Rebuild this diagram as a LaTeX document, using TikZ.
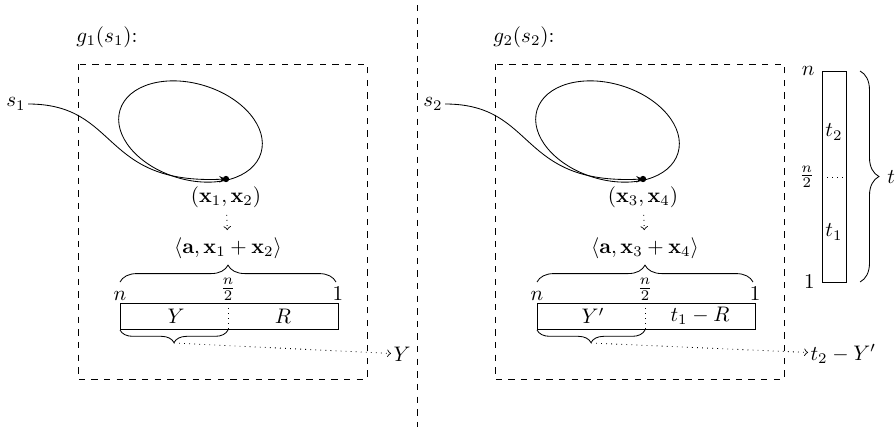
\documentclass[tikz,border=0pt]{standalone}
\usepackage{amsmath,amssymb}
\usetikzlibrary{decorations.pathreplacing}
\tikzset{
  brc/.style={decorate, decoration={brace, amplitude=#1}},
  lbl/.style={inner sep=1pt},
}
\begin{document}
\begin{tikzpicture}[x=0.0167cm, y=-0.0167cm]
\useasboundingbox (0,0) rectangle (896,433);
\draw[dashed] (417,5) -- (417,427);
% the two halves g_1 and g_2
\foreach \dx/\i/\xa/\xb/\lt/\rt/\res in {0/1/1/2/Y/R/Y, 417/2/3/4/Y'/t_1-R/t_2-Y'} {
 \begin{scope}[shift={(\dx,0)}]
 \node at (107,37) {$g_\i(s_\i)$:};
 \draw[dashed] (78,64) rectangle (367,379);
 \node[lbl] (s\i) at (16,104) {$s_\i$};
 \coordinate (p\i) at (226,179);
 \draw[rotate around={-17:(190.5,131.5)}] (190.5,131.5) ellipse (1.23cm and 0.8cm);
 \fill (p\i) circle (1.5pt);
 \draw[-stealth] (s\i) .. controls (120,104) and (100,185) .. (p\i);
 \node[below] (x\i) at (p\i) {$(\mathbf{x}_\xa,\mathbf{x}_\xb)$};
 \node (ip\i) at (228,248) {$\langle\mathbf{a},\mathbf{x}_\xa+\mathbf{x}_\xb\rangle$};
 \draw[dotted,->] (x\i) -- (ip\i);
 \draw[brc=8pt] (120,282) -- (336,282);
 \draw (120,303) rectangle (338,329);
 \draw[dotted] (228,303) -- (228,329);
 \node[above,lbl] (n\i) at (120,303) {$n$};
 \node[above,lbl] (h\i) at (228,303) {$\frac{n}{2}$};
 \node[above,lbl] (o\i) at (338,303) {$1$};
 \node (lt\i) at (176,316) {$\lt$};
 \node (rt\i) at (283,316) {$\rt$};
 \draw[brc=6pt] (228,330) -- (120,330);
 \coordinate (b\i) at (174,343);
 \node[right,lbl] (y\i) at (391,354) {$\res$};
 \draw[dotted,->] (b\i) -- (y\i);
 \end{scope}
}
% the column t
\draw (822,71) rectangle (846,282);
\draw[dotted] (822,177) -- (846,177);
\node[left] (cn) at (822,71) {$n$};
\node[left] (ch) at (822,177) {$\frac{n}{2}$};
\node[left] (c1) at (822,282) {$1$};
\node (t2) at (834,132) {$t_2$};
\node (t1) at (834,232) {$t_1$};
\draw[brc=9pt] (860,71) -- (860,282);
\node[right] (t) at (880,177) {$t$};
\end{tikzpicture}
\end{document}
